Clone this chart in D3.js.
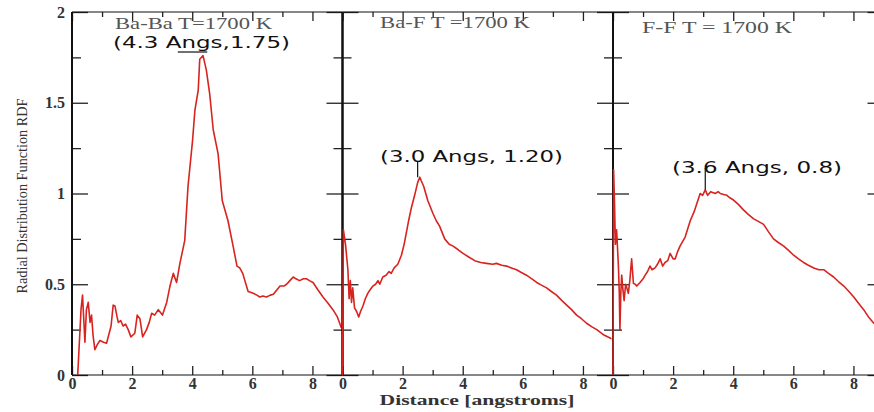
<!DOCTYPE html>
<html><head><meta charset="utf-8">
<script src="https://cdn.jsdelivr.net/npm/d3@7"></script>
<style>body{margin:0;background:#fff}svg{display:block}</style>
</head><body>
<svg id="c" width="874" height="412"></svg>
<script>
// ---- data ----
const panelTitles = ["Ba-Ba T=1700 K", "Ba-F T =1700 K", "F-F  T = 1700 K"];
const peakLabels = ["(4.3 Angs,1.75)", "(3.0 Angs, 1.20)", "(3.6 Angs, 0.8)"];
const xTicks = [0, 2, 4, 6, 8];
const xMinorTicks = [1, 3, 5, 7];
const yTicks = [0, 0.5, 1, 1.5, 2];
const yMinorTicks = [0.25, 0.75, 1.25, 1.75];
const yTickLabels = ["0", "0.5", "1", "1.5", "2"];

const babaX = [0.19,0.3,0.35,0.43,0.48,0.54,0.6,0.65,0.7,0.76,0.85,0.93,1.05,1.15,1.3,1.37,1.43,1.5,1.54,1.62,1.7,1.78,1.87,1.96,2.09,2.17,2.26,2.35,2.48,2.57,2.65,2.75,2.87,3.01,3.15,3.26,3.37,3.48,3.59,3.75,3.86,4.01,4.09,4.2,4.25,4.36,4.47,4.58,4.7,4.86,5.0,5.19,5.36,5.49,5.58,5.68,5.86,6.03,6.15,6.25,6.35,6.47,6.6,6.7,6.82,6.92,7.05,7.14,7.25,7.36,7.45,7.57,7.7,7.8,7.9,8.02,8.18,8.35,8.5,8.68,8.83,8.96];
const babaY = [0,0.36,0.44,0.18,0.36,0.40,0.29,0.33,0.22,0.14,0.17,0.19,0.18,0.175,0.27,0.385,0.38,0.32,0.29,0.3,0.27,0.28,0.25,0.21,0.23,0.33,0.31,0.21,0.25,0.29,0.34,0.33,0.36,0.33,0.40,0.49,0.56,0.51,0.615,0.74,1.04,1.29,1.46,1.57,1.74,1.76,1.68,1.55,1.35,1.22,0.96,0.85,0.71,0.60,0.59,0.56,0.46,0.45,0.44,0.43,0.435,0.43,0.44,0.445,0.47,0.49,0.49,0.50,0.52,0.54,0.53,0.52,0.53,0.53,0.52,0.51,0.47,0.43,0.40,0.36,0.32,0.26];

const bafX = [0,0.03,0.1,0.18,0.22,0.26,0.3,0.34,0.4,0.47,0.54,0.6,0.68,0.76,0.84,0.92,1.01,1.1,1.18,1.24,1.34,1.45,1.55,1.62,1.72,1.84,1.96,2.05,2.12,2.2,2.29,2.4,2.5,2.57,2.62,2.7,2.84,3.01,3.12,3.23,3.4,3.55,3.68,3.85,4.01,4.2,4.4,4.6,4.79,5.0,5.12,5.3,5.46,5.62,5.79,5.95,6.12,6.3,6.46,6.62,6.79,6.95,7.12,7.3,7.46,7.62,7.79,7.95,8.12,8.3,8.46,8.7,8.95];
const bafY = [0,0.80,0.72,0.58,0.42,0.52,0.40,0.48,0.37,0.35,0.32,0.35,0.38,0.42,0.45,0.47,0.49,0.50,0.52,0.50,0.54,0.55,0.57,0.56,0.59,0.61,0.66,0.72,0.78,0.85,0.92,0.99,1.06,1.09,1.07,1.04,0.96,0.89,0.85,0.82,0.75,0.72,0.71,0.69,0.67,0.65,0.63,0.62,0.615,0.61,0.615,0.605,0.60,0.59,0.58,0.565,0.55,0.53,0.51,0.495,0.48,0.46,0.44,0.41,0.385,0.36,0.33,0.31,0.285,0.265,0.25,0.22,0.20];

const ffX = [0,0.02,0.05,0.08,0.12,0.18,0.21,0.23,0.26,0.29,0.33,0.37,0.42,0.46,0.51,0.56,0.62,0.68,0.74,0.79,0.9,1.0,1.07,1.15,1.23,1.3,1.4,1.48,1.57,1.65,1.73,1.82,1.9,2.0,2.07,2.15,2.23,2.4,2.57,2.7,2.79,2.9,2.98,3.07,3.15,3.25,3.4,3.5,3.57,3.68,3.79,3.9,4.01,4.17,4.34,4.5,4.68,4.85,5.01,5.17,5.34,5.5,5.68,5.85,6.01,6.17,6.34,6.5,6.68,6.85,7.01,7.17,7.34,7.5,7.68,7.85,8.01,8.17,8.34,8.5,8.68,8.9];
const ffY = [0,1.13,0.95,0.72,0.80,0.60,0.45,0.25,0.45,0.55,0.47,0.41,0.50,0.48,0.45,0.52,0.64,0.505,0.50,0.49,0.51,0.53,0.55,0.57,0.60,0.58,0.59,0.61,0.64,0.60,0.62,0.63,0.67,0.64,0.64,0.68,0.71,0.76,0.85,0.90,0.945,1.0,0.99,1.02,0.99,1.01,1.0,1.01,1.0,0.995,0.99,0.975,0.964,0.94,0.91,0.885,0.86,0.845,0.83,0.79,0.75,0.73,0.71,0.685,0.66,0.64,0.62,0.605,0.59,0.58,0.58,0.56,0.54,0.515,0.49,0.46,0.43,0.395,0.36,0.32,0.285,0.25];

const peakPoints = [[4.3, 1.75], [2.5, 1.09], [3.07, 1.02]];

// ---- layout ----
const svg = d3.select("#c");
const yTop = 12, yBottom = 375, pw = 270.5;
const lefts = [72, 342.5, 613];
const y = d3.scaleLinear().domain([0, 2]).range([yBottom, yTop]);
const series = [[babaX, babaY], [bafX, bafY], [ffX, ffY]];
const serif = "'Liberation Serif','DejaVu Serif',serif";
const sans = "'DejaVu Sans','Liberation Sans',sans-serif";

const xs = lefts.map(l => d3.scaleLinear().domain([0, 9]).range([l, l + pw]));

function styleAxis(g) {
  g.select(".domain").remove();
  g.selectAll(".tick line").attr("stroke", "#222").attr("stroke-width", 1.3);
  g.selectAll("text").attr("fill", "#333").style("font-family", serif)
    .style("font-size", "16px").style("font-weight", "bold");
}

xs.forEach((x, i) => {
  const l = lefts[i];
  svg.append("g").attr("transform", `translate(0,${yBottom})`)
    .call(d3.axisBottom(x).tickValues(xTicks).tickSize(-9).tickPadding(3).tickFormat(d3.format("d")))
    .call(styleAxis);
  svg.append("g").attr("transform", `translate(0,${yBottom})`)
    .call(d3.axisBottom(x).tickValues(xMinorTicks).tickSize(-5).tickFormat(""))
    .call(styleAxis);
  svg.append("g").attr("transform", `translate(0,${yTop})`)
    .call(d3.axisTop(x).tickValues(xTicks).tickSize(-9).tickFormat(""))
    .call(styleAxis);
  svg.append("g").attr("transform", `translate(0,${yTop})`)
    .call(d3.axisTop(x).tickValues(xMinorTicks).tickSize(-5).tickFormat(""))
    .call(styleAxis);
  const ya = d3.axisLeft(y).tickValues(yTicks).tickSize(-16).tickPadding(7)
    .tickFormat(i === 0 ? ((d, k) => yTickLabels[k]) : "");
  svg.append("g").attr("transform", `translate(${l},0)`).call(ya).call(styleAxis);
  svg.append("g").attr("transform", `translate(${l},0)`)
    .call(d3.axisLeft(y).tickValues(yMinorTicks).tickSize(-9).tickFormat("")).call(styleAxis);
  svg.append("g").attr("transform", `translate(${l + pw},0)`)
    .call(d3.axisRight(y).tickValues(yTicks).tickSize(-16).tickFormat("")).call(styleAxis);
  svg.append("g").attr("transform", `translate(${l + pw},0)`)
    .call(d3.axisRight(y).tickValues(yMinorTicks).tickSize(-9).tickFormat("")).call(styleAxis);

  svg.append("line").attr("x1", l).attr("x2", l + pw).attr("y1", yTop).attr("y2", yTop).attr("stroke", "#111").attr("stroke-width", 1.2);
  svg.append("line").attr("x1", l).attr("x2", l + pw).attr("y1", yBottom).attr("y2", yBottom).attr("stroke", "#111").attr("stroke-width", 1.2);
  svg.append("line").attr("x1", l).attr("x2", l).attr("y1", yTop).attr("y2", yBottom).attr("stroke", "#111").attr("stroke-width", 2);
  svg.append("line").attr("x1", l + pw).attr("x2", l + pw).attr("y1", yTop).attr("y2", yBottom).attr("stroke", "#111").attr("stroke-width", 2);

  const [sx, sy] = series[i];
  const line = d3.line().x((d, k) => x(sx[k])).y((d, k) => y(sy[k]));
  svg.append("path").datum(sx).attr("d", line).attr("fill", "none")
    .attr("stroke", "#d8231f").attr("stroke-width", 1.6).attr("stroke-linejoin", "round");
});

const titlePos = [[115, 29, 157], [380, 28, 150], [642, 33, 150]];
panelTitles.forEach((t, i) => {
  svg.append("text").attr("x", titlePos[i][0]).attr("y", titlePos[i][1])
    .attr("textLength", titlePos[i][2]).attr("lengthAdjust", "spacingAndGlyphs")
    .style("font-family", serif).style("font-size", "16px").attr("fill", "#555").text(t);
});

const labelPos = [[113, 48, 177], [380, 162, 183], [672, 173, 170]];
peakLabels.forEach((t, i) => {
  svg.append("text").attr("x", labelPos[i][0]).attr("y", labelPos[i][1])
    .attr("textLength", labelPos[i][2]).attr("lengthAdjust", "spacingAndGlyphs")
    .style("font-family", sans).style("font-size", "15px").attr("fill", "#111").text(t);
});
svg.append("line").attr("x1", xs[0](3.52)).attr("x2", xs[0](4.5)).attr("y1", 52).attr("y2", 52).attr("stroke", "#111").attr("stroke-width", 1.2);
svg.append("line").attr("x1", xs[1](peakPoints[1][0])).attr("x2", xs[1](peakPoints[1][0])).attr("y1", 162).attr("y2", y(peakPoints[1][1])).attr("stroke", "#111").attr("stroke-width", 1.2);
svg.append("line").attr("x1", xs[2](peakPoints[2][0])).attr("x2", xs[2](peakPoints[2][0])).attr("y1", 168).attr("y2", y(peakPoints[2][1])).attr("stroke", "#111").attr("stroke-width", 1.2);

svg.append("text").attr("transform", "translate(27,196) rotate(-90)").attr("text-anchor", "middle")
  .attr("textLength", 195).attr("lengthAdjust", "spacingAndGlyphs")
  .style("font-family", serif).style("font-size", "15px").attr("fill", "#333")
  .text("Radial Distribution Function RDF");
svg.append("text").attr("x", 477).attr("y", 405).attr("text-anchor", "middle")
  .attr("textLength", 195).attr("lengthAdjust", "spacingAndGlyphs")
  .style("font-family", serif).style("font-size", "14px").style("font-weight", "bold").attr("fill", "#333")
  .text("Distance [angstroms]");
</script>
</body></html>
